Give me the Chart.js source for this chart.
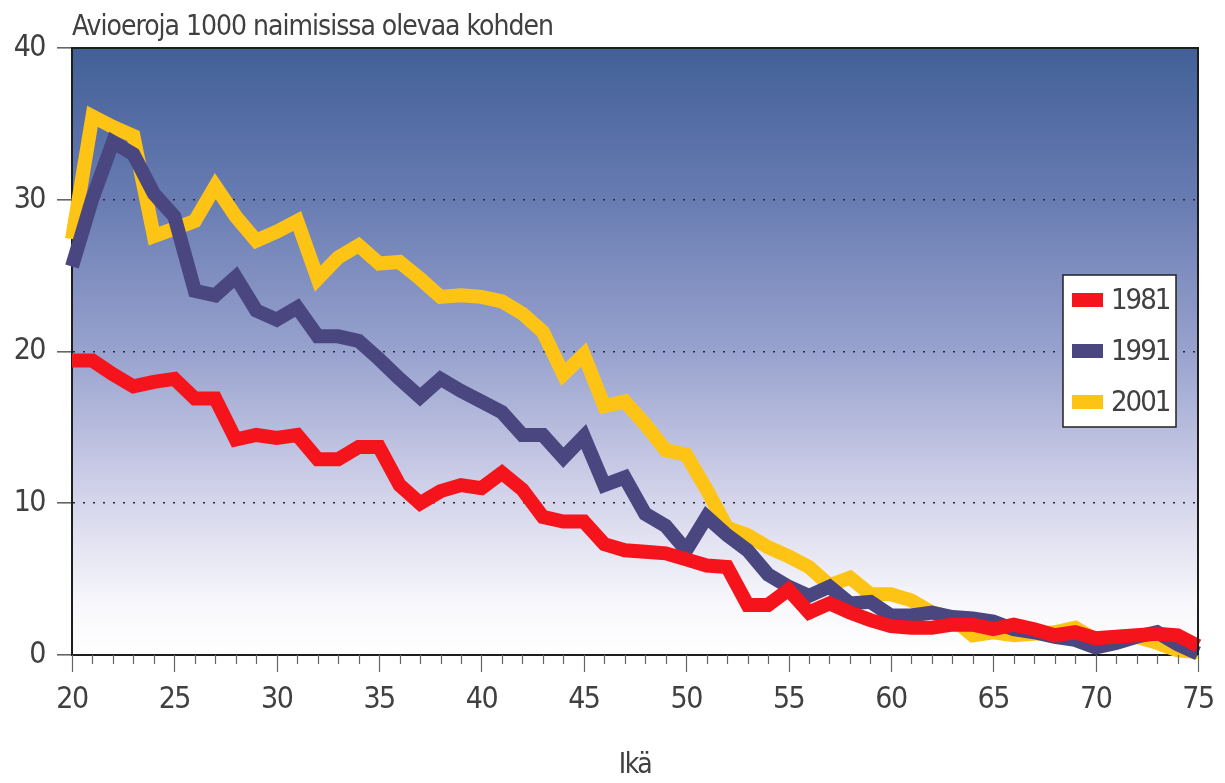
<!DOCTYPE html>
<html>
<head>
<meta charset="utf-8">
<script src="https://cdn.jsdelivr.net/npm/chart.js@4/dist/chart.umd.min.js"></script>
<style>
  html, body { margin: 0; padding: 0; background: #fff; }
  #wrap { width: 1225px; height: 783px; }
</style>
</head>
<body>
<div id="wrap"><canvas id="chart" width="1225" height="783"></canvas></div>
<script>
// ---- data ----
const ages = [];
for (let a = 20; a <= 75; a++) ages.push(a);

const years = ['1981', '1991', '2001'];
const colors = ['#f5141c', '#4a4680', '#fdc416'];

const v1981 = [19.4, 19.4, 18.5, 17.7, 18.0, 18.2, 16.9, 16.9, 14.2, 14.5,
  14.3, 14.5, 12.9, 12.9, 13.7, 13.7, 11.2, 10.0, 10.8, 11.2,
  11.0, 12.0, 10.9, 9.1, 8.8, 8.8, 7.3, 6.9, 6.8, 6.7,
  6.3, 5.9, 5.8, 3.3, 3.3, 4.3, 2.8, 3.4, 2.8, 2.3,
  1.9, 1.8, 1.8, 2.0, 2.0, 1.7, 2.0, 1.7, 1.3, 1.5,
  1.1, 1.2, 1.3, 1.4, 1.3, 0.6];
const v1991 = [25.6, 30.1, 33.8, 33.0, 30.4, 28.9, 24.0, 23.7, 24.9, 22.7,
  22.1, 22.9, 21.0, 21.0, 20.7, 19.5, 18.2, 17.0, 18.2, 17.4,
  16.7, 16.0, 14.5, 14.5, 13.0, 14.4, 11.2, 11.7, 9.3, 8.5,
  6.9, 9.1, 7.9, 6.9, 5.3, 4.5, 3.9, 4.5, 3.4, 3.5,
  2.6, 2.6, 2.8, 2.5, 2.4, 2.2, 1.7, 1.5, 1.2, 1.0,
  0.5, 0.8, 1.2, 1.5, 0.7, 0.1];
const v2001 = [27.4, 35.5, 34.8, 34.2, 27.6, 28.1, 28.6, 30.9, 28.9, 27.3,
  27.9, 28.6, 24.8, 26.2, 27.0, 25.8, 25.9, 24.8, 23.6, 23.7,
  23.6, 23.3, 22.5, 21.3, 18.5, 19.8, 16.4, 16.7, 15.2, 13.5,
  13.2, 10.9, 8.4, 7.9, 7.1, 6.5, 5.8, 4.6, 5.1, 4.0,
  4.0, 3.6, 2.8, 2.4, 1.3, 1.5, 1.3, 1.4, 1.5, 1.8,
  1.0, 1.0, 1.2, 0.8, 0.3, 0.2];
const seriesValues = [v1981, v1991, v2001];

const yTicks = [0, 10, 20, 30, 40];
const xMajor = [20, 25, 30, 35, 40, 45, 50, 55, 60, 65, 70, 75];

const chartTitle = 'Avioeroja 1000 naimisissa olevaa kohden';
const xTitle = 'Ikä';

const FONT = '"DejaVu Sans Condensed", "Liberation Sans Narrow", sans-serif';
const TXT = '#404040';

// ---- plugins ----
const backdrop = {
  id: 'backdrop',
  beforeDraw(chart) {
    const { ctx, chartArea: a } = chart;
    // narrow the lettering a bit, the original uses a condensed face
    ctx.letterSpacing = '-1.5px';
    const g = ctx.createLinearGradient(0, a.top, 0, a.bottom);
    g.addColorStop(0, 'rgb(66,96,152)');
    g.addColorStop(0.25, 'rgb(104,124,178)');
    g.addColorStop(0.5, 'rgb(152,162,206)');
    g.addColorStop(0.75, 'rgb(214,214,236)');
    g.addColorStop(0.92, 'rgb(248,248,252)');
    g.addColorStop(1, '#ffffff');
    ctx.save();
    ctx.fillStyle = g;
    ctx.fillRect(a.left, a.top, a.right - a.left, a.bottom - a.top);
    ctx.restore();
  }
};

const frame = {
  id: 'frame',
  afterDraw(chart) {
    const { ctx, chartArea: a, scales } = chart;
    ctx.save();
    // top and right border
    ctx.strokeStyle = '#1e1e1e';
    ctx.lineWidth = 2;
    ctx.beginPath();
    ctx.moveTo(a.left, a.top);
    ctx.lineTo(a.right, a.top);
    ctx.lineTo(a.right, a.bottom);
    ctx.stroke();
    // x ticks: minor every year, major every 5
    ctx.strokeStyle = '#666';
    ctx.lineWidth = 1.2;
    ages.forEach(v => {
      const x = Math.round(scales.x.getPixelForValue(v)) + 0.5;
      const len = v % 5 === 0 ? 17 : 9;
      ctx.beginPath();
      ctx.moveTo(x, a.bottom);
      ctx.lineTo(x, a.bottom + len);
      ctx.stroke();
    });
    // title
    ctx.fillStyle = TXT;
    ctx.letterSpacing = '-1px';
    ctx.font = '28px ' + FONT;
    ctx.textAlign = 'left';
    ctx.textBaseline = 'alphabetic';
    ctx.fillText(chartTitle, a.left, 35);

    // legend box
    const bx = 1063, by = 275, bw = 113, bh = 152;
    ctx.fillStyle = '#fff';
    ctx.fillRect(bx, by, bw, bh);
    ctx.strokeStyle = '#222';
    ctx.lineWidth = 1.5;
    ctx.strokeRect(bx, by, bw, bh);
    ctx.letterSpacing = '-2px';
    chart.data.datasets.forEach((ds, i) => {
      const cy = by + 25 + i * 51;
      ctx.fillStyle = ds.borderColor;
      ctx.fillRect(bx + 9, cy - 7, 31, 14);
      ctx.fillStyle = TXT;
      ctx.font = '29px ' + FONT;
      ctx.textBaseline = 'middle';
      ctx.fillText(ds.label, bx + 48, cy + 1);
    });
    ctx.restore();
  }
};

// ---- chart ----
new Chart(document.getElementById('chart'), {
  type: 'line',
  data: {
    labels: ages,
    datasets: years.map((y, i) => ({
      label: y,
      data: ages.map((a, j) => ({ x: a, y: seriesValues[i][j] })),
      borderColor: colors[i],
      backgroundColor: colors[i],
      borderWidth: 14,
      borderJoinStyle: 'miter',
      borderCapStyle: 'butt',
      pointRadius: 0,
      tension: 0,
      clip: 8
    }))
  },
  options: {
    responsive: false,
    animation: false,
    events: [],
    layout: { padding: { top: 48, right: 27, left: 0, bottom: 0 } },
    plugins: {
      legend: { display: false },
      title: { display: false },
      tooltip: { enabled: false }
    },
    scales: {
      x: {
        type: 'linear',
        min: 20,
        max: 75,
        afterBuildTicks(scale) { scale.ticks = xMajor.map(v => ({ value: v })); },
        afterFit(scale) {
          scale.height = 128;
          scale.paddingLeft = 0;
          scale.paddingRight = 0;
        },
        grid: { drawOnChartArea: false, drawTicks: false },
        border: { display: true, color: '#1e1e1e', width: 2 },
        ticks: {
          padding: 27,
          color: TXT,
          font: { family: FONT, size: 30 },
          maxRotation: 0,
          autoSkip: false
        },
        title: {
          display: true,
          text: xTitle,
          color: TXT,
          font: { family: FONT, size: 28 },
          padding: { top: 0, bottom: 0 }
        }
      },
      y: {
        min: 0,
        max: 40,
        afterBuildTicks(scale) { scale.ticks = yTicks.map(v => ({ value: v })); },
        afterFit(scale) {
          scale.width = 72;
          scale.paddingTop = 0;
          scale.paddingBottom = 0;
        },
        grid: {
          color: ctx => (ctx.tick && (ctx.tick.value === 0 || ctx.tick.value === 40)) ? 'rgba(0,0,0,0)' : '#2a2a3a',
          lineWidth: 1.6,
          tickColor: '#666',
          tickLength: 15,
          tickBorderDash: [],
          drawTicks: true
        },
        border: { display: true, color: '#1e1e1e', width: 2, dash: [2, 8] },
        ticks: {
          padding: 12,
          color: TXT,
          font: { family: FONT, size: 30 }
        }
      }
    }
  },
  plugins: [backdrop, frame]
});
</script>
</body>
</html>
